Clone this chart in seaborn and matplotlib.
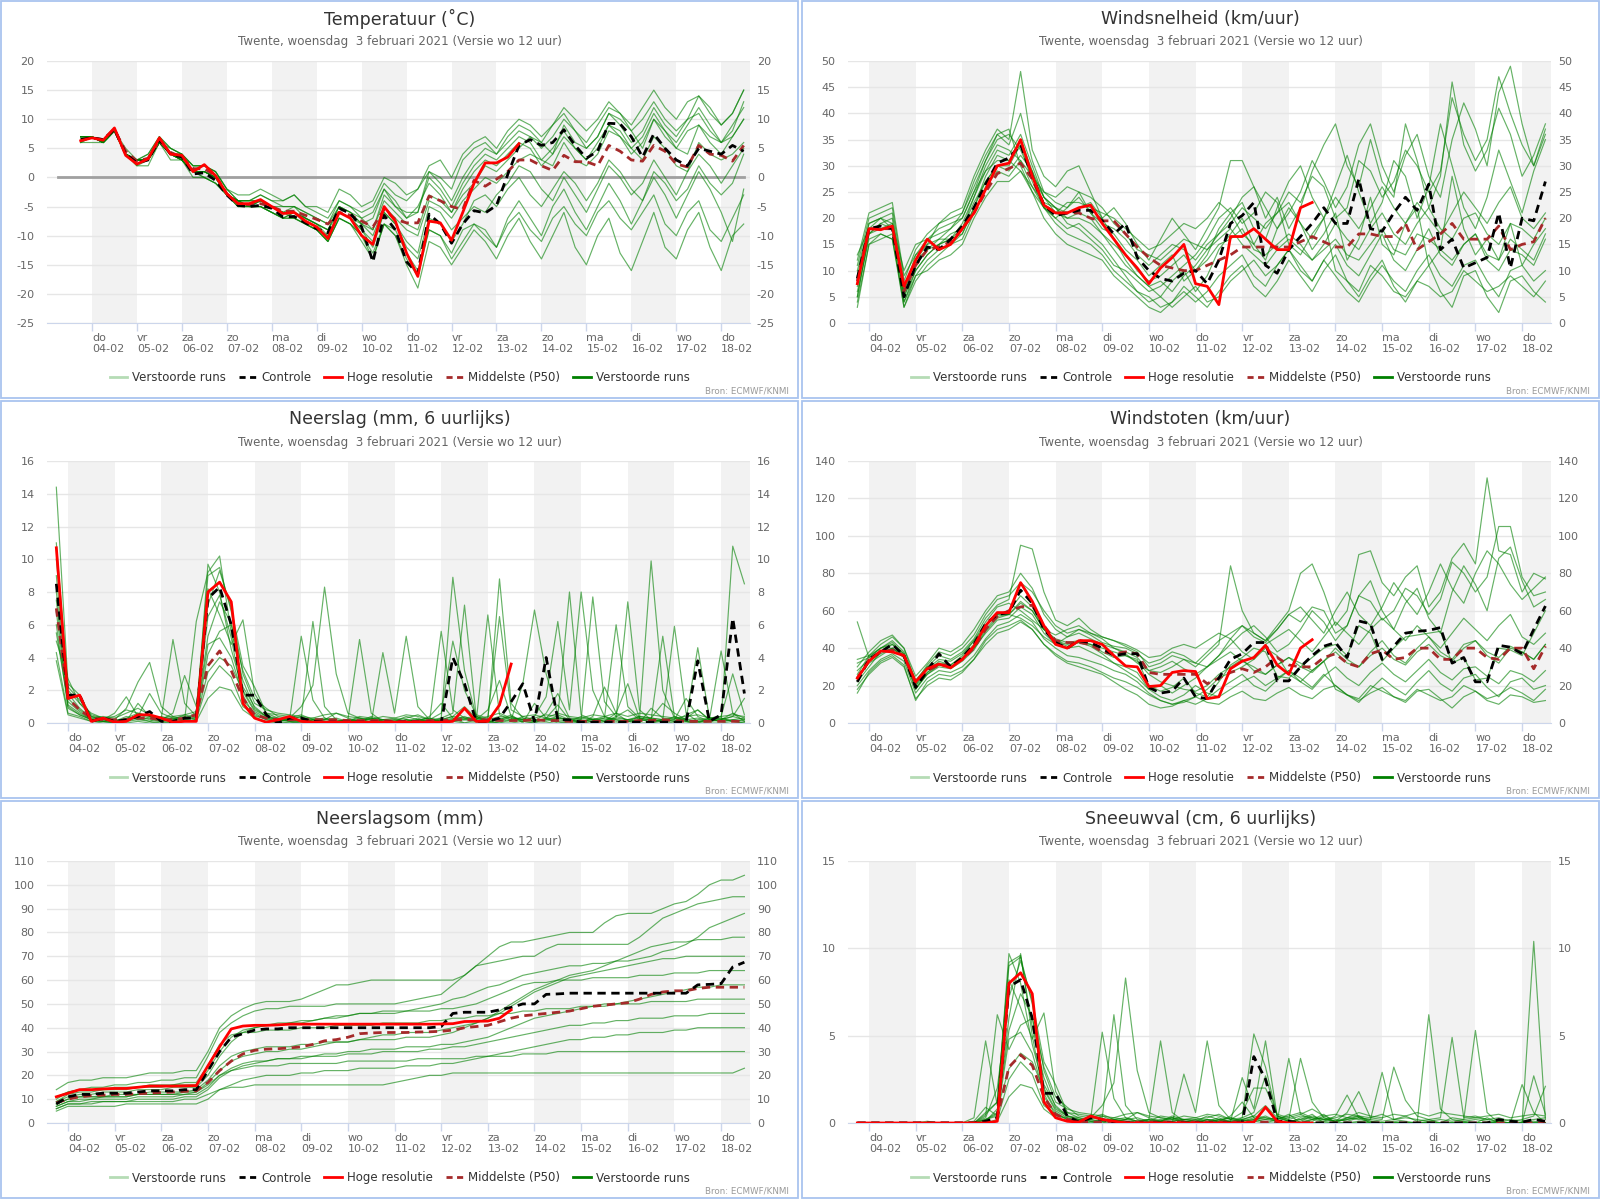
import numpy as np
import pandas as pd
import matplotlib
matplotlib.use("Agg")
import matplotlib.pyplot as plt
from matplotlib.lines import Line2D
from matplotlib.patches import Rectangle
import seaborn as sns

# --------------------------------------
# Time axis: days after 04-02 00:00, 6-hourly (03-02 18h .. 18-02 12h)
# --------------------------------------
times = np.arange(-0.25, 14.51, 0.25)
day_names = ["do", "vr", "za", "zo", "ma", "di", "wo", "do",
             "vr", "za", "zo", "ma", "di", "wo", "do"]
day_dates = ["04-02", "05-02", "06-02", "07-02", "08-02", "09-02", "10-02", "11-02",
             "12-02", "13-02", "14-02", "15-02", "16-02", "17-02", "18-02"]
subtitle = "Twente, woensdag  3 februari 2021 (Versie wo 12 uur)"
zero_span = [-0.75, 14.5]

# --------------------------------------
# Temperatuur
# --------------------------------------
temp_ctrl = "6.5 | 6.8 6.5 8.3 4.0 | 2.5 3.0 6.5 4.0 | 3.5 0.6 0.8 -0.5 | -3.0 -4.8 -5.0 -4.8 | -5.3 -6.8 -6.7 -7.8 | -8.8 -9.5 -5.3 -6.2 | -8.5 -14.5 -6.5 -9.0 | -14.5 -16.5 -6.3 -8.0 | -11.3 -8.0 -5.7 -6.1 | -4.8 0.5 5.5 6.5 | 5.5 6.0 8.2 5.5 | 3.3 4.5 9.3 9.2 | 7.0 3.5 7.5 5.0 | 3.0 2.0 5.0 4.5 | 4.0 5.5 4.5"
temp_hres = "6.3 | 6.8 6.4 8.5 3.8 | 2.3 3.2 6.8 4.0 | 3.8 1.0 2.2 0.3 | -2.8 -4.5 -4.5 -3.8 | -5.0 -6.2 -6.0 -7.5 | -8.5 -10.5 -6.0 -7.0 | -10.0 -11.5 -5.0 -7.5 | -13.0 -17.0 -7.5 -7.8 | -10.8 -6.0 -1.0 2.5 | 2.5 3.5 5.8"
temp_p50 = "6.5 | 6.8 6.5 8.2 4.5 | 2.8 3.3 6.3 4.3 | 3.5 1.5 1.5 0.3 | -2.8 -4.5 -4.7 -4.5 | -5.0 -5.8 -5.8 -6.5 | -7.2 -8.0 -6.0 -6.5 | -7.5 -8.5 -5.5 -7.2 | -7.8 -7.8 -3.2 -4.0 | -5.0 -5.5 -0.5 -1.5 | -0.3 1.0 3.0 3.0 | 2.0 1.2 3.8 2.7 | 2.7 2.0 5.5 4.5 | 3.0 2.8 5.5 4.5 | 2.3 1.8 5.5 4.0 | 3.8 2.8 5.5"
temp_runs = [
    "7 | 7 6 8 4 | 3 3 6 4 | 3 1 1 0 | -3 -4 -5 -4 | -5 -6 -6 -7 | -8 -9 -6 -7 | -8 -10 -5 -7 | -9 -10 -4 -5 | -7 -4 -2 0 | -1 1 3 4 | 3 2 6 3 | 2 4 8 7 | 5 3 7 5 | 2 1 6 4 | 3 4 6",
    "6 | 7 6 8 5 | 3 4 7 5 | 4 2 2 1 | -2 -4 -4 -3 | -4 -5 -5 -6 | -7 -8 -5 -6 | -7 -9 -4 -6 | -8 -9 -3 -4 | -6 -3 -1 2 | 1 3 5 7 | 6 4 9 6 | 5 7 11 10 | 8 5 10 8 | 5 4 9 7 | 6 7 10",
    "7 | 7 6 8 4 | 2 2 6 3 | 3 0 0 -1 | -3 -5 -5 -5 | -6 -7 -7 -8 | -9 -11 -7 -8 | -10 -13 -8 -10 | -14 -17 -9 -10 | -13 -9 -8 -10 | -12 -8 -6 -9 | -11 -7 -5 -8 | -10 -6 -4 -7 | -9 -6 -3 -8 | -10 -6 -4 -9 | -11 -7 -3",
    "7 | 7 6 8 4 | 3 3 7 5 | 4 2 2 1 | -2 -3 -3 -2 | -3 -4 -3 -5 | -6 -7 -4 -5 | -6 -5 -1 -3 | -4 -2 1 0 | -2 3 5 6 | 4 7 9 8 | 6 9 12 10 | 8 10 13 11 | 9 12 15 12 | 10 13 14 11 | 9 11 15",
    "6 | 7 6 8 4 | 3 3 6 4 | 3 1 0 -1 | -3 -5 -5 -5 | -6 -7 -6 -8 | -9 -10 -6 -7 | -9 -12 -6 -8 | -11 -13 -5 -6 | -9 -7 -5 -6 | -3 -1 2 1 | -2 -4 0 -3 | -6 -2 2 0 | -3 -1 3 0 | -3 1 4 2 | -1 2 5",
    "7 | 7 6 8 4 | 3 4 7 4 | 4 1 1 0 | -3 -4 -4 -4 | -5 -6 -5 -7 | -8 -9 -5 -6 | -8 -7 -2 -5 | -6 -6 0 -2 | -5 -1 2 4 | 3 5 7 6 | 3 5 8 5 | 3 6 9 7 | 4 6 10 7 | 5 8 9 6 | 4 7 10",
    "7 | 7 6 8 4 | 2 3 6 4 | 3 1 1 0 | -3 -4 -5 -4 | -5 -6 -7 -8 | -9 -11 -7 -8 | -10 -14 -8 -10 | -15 -19 -11 -12 | -15 -12 -9 -11 | -14 -10 -7 -11 | -14 -10 -6 -12 | -15 -10 -7 -13 | -16 -11 -6 -12 | -14 -9 -6 -12 | -16 -10 -8",
    "7 | 7 6 8 4 | 3 3 6 4 | 3 1 1 0 | -3 -4 -4 -4 | -5 -5 -5 -6 | -7 -8 -4 -5 | -7 -6 -2 -4 | -7 -5 -1 -3 | -6 -2 1 3 | 2 4 6 5 | 2 4 7 5 | 3 5 9 8 | 5 7 11 8 | 6 9 12 9 | 6 9 12",
    "6 | 6 6 8 4 | 3 3 6 4 | 4 1 1 0 | -3 -4 -5 -5 | -6 -7 -6 -7 | -8 -10 -6 -7 | -9 -11 -6 -8 | -12 -14 -7 -8 | -11 -8 -4 -3 | -5 -2 0 -3 | -5 -2 1 -1 | -4 -1 3 1 | -2 -4 1 -1 | -4 -2 2 -1 | -3 -1 4",
    "7 | 7 6 8 4 | 3 3 6 5 | 4 2 2 1 | -2 -4 -4 -3 | -4 -4 -3 -5 | -5 -6 -2 -3 | -5 -4 0 -1 | -3 -2 2 3 | 0 4 6 7 | 5 8 10 9 | 7 9 11 8 | 6 9 12 11 | 8 10 13 10 | 8 10 14 12 | 9 11 15",
    "7 | 7 6 8 4 | 3 3 6 4 | 3 1 0 -1 | -3 -5 -5 -5 | -6 -7 -7 -8 | -9 -11 -7 -8 | -11 -14 -8 -9 | -13 -16 -9 -10 | -14 -11 -8 -9 | -12 -7 -4 -7 | -10 -5 -2 -6 | -9 -5 -1 -4 | -8 -4 0 -3 | -7 -3 1 -2 | -6 -11 -2",
    "7 | 7 6 8 4 | 3 3 6 4 | 3 1 1 0 | -3 -4 -5 -4 | -5 -6 -6 -7 | -8 -9 -5 -6 | -8 -9 -3 -5 | -7 -6 1 -1 | -4 0 3 5 | 4 6 8 7 | 5 7 10 8 | 5 7 11 9 | 6 8 12 9 | 7 10 11 8 | 6 8 13",
]

# --------------------------------------
# Windsnelheid
# --------------------------------------
wind_ctrl = "8.5 | 18 18.5 18 5 | 11 14.5 14 16 | 18.5 22 26.5 30.5 | 31.5 34 28 22.5 | 20.5 21 21.5 21.5 | 19.5 17 19 12.5 | 10 8.5 8 9.5 | 10 7.5 12 19 | 20.5 23 11 9.5 | 14 16.5 19 22 | 19 19 27.5 18 | 17.5 21 24 21.5 | 26.5 14 16 10.5 | 11.5 12.5 21 10.5 | 20 19.5 27"
wind_hres = "7.5 | 18 17.8 18.5 7 | 12 16 14 15 | 18 21 25.5 30 | 30.5 35 28 22.5 | 21 21 22 22.5 | 19 16 13 10.5 | 7.5 10.5 12.5 15 | 7.5 7 3.5 16.5 | 16.5 18 16 14 | 14 22 23"
wind_p50 = "8 | 18 18 18 6 | 11 14 14.5 15.5 | 18 21 25 28.5 | 29.5 30.5 27.5 22.5 | 21 21 21 20 | 19.5 19.5 17 14.5 | 12.5 11 10.5 10 | 10 11 12 13 | 14.5 14.5 14.5 14.5 | 14.5 15.5 16.5 15.5 | 14.5 14.5 17 17 | 16.5 16.5 19 14 | 15.5 17 19 16 | 16 16 18.5 14 | 15 15.5 20"
wind_runs = [
    "5 | 17 19 20 4 | 10 13 15 16 | 19 24 29 33 | 32 36 30 24 | 22 21 22 23 | 20 16 12 9 | 7 5 8 10 | 6 9 14 17 | 20 15 12 18 | 22 19 14 17 | 21 12 16 24 | 15 13 19 22 | 11 14 28 18 | 13 16 12 19 | 11 15 18",
    "10 | 19 20 18 7 | 12 15 16 18 | 21 26 31 35 | 36 33 28 25 | 24 26 25 21 | 18 17 14 12 | 9 11 13 8 | 10 13 18 21 | 23 18 16 22 | 27 30 24 20 | 26 32 25 19 | 23 31 28 20 | 26 38 30 22 | 18 24 33 27 | 21 29 35",
    "3 | 15 16 17 3 | 8 11 13 15 | 17 22 27 30 | 29 32 29 22 | 20 18 19 17 | 15 12 9 6 | 5 3 4 7 | 5 3 6 9 | 11 7 5 8 | 12 9 6 10 | 13 8 5 9 | 12 7 4 8 | 11 6 3 9 | 10 5 2 8 | 9 6 4",
    "12 | 21 22 23 9 | 13 15 19 21 | 22 28 33 37 | 35 48 33 28 | 26 29 30 25 | 20 22 19 15 | 12 16 20 17 | 14 18 22 31 | 31 26 20 24 | 18 22 29 34 | 38 30 26 35 | 27 24 38 31 | 22 28 46 34 | 29 33 41 36 | 28 32 38",
    "7 | 18 18 19 5 | 11 14 15 17 | 18 23 27 30 | 30 34 27 22 | 19 17 16 15 | 13 10 8 6 | 4 5 3 5 | 7 4 5 8 | 10 12 9 11 | 14 10 8 12 | 15 11 9 13 | 17 12 10 14 | 18 13 11 15 | 17 12 10 14 | 13 11 16",
    "8 | 17 19 18 6 | 12 14 16 16 | 18 24 30 34 | 33 31 26 23 | 22 20 21 20 | 17 15 13 10 | 8 9 11 13 | 10 12 15 16 | 18 14 13 15 | 17 15 12 14 | 16 13 12 15 | 18 14 13 17 | 16 14 12 15 | 17 13 12 16 | 14 12 17",
    "6 | 16 17 16 4 | 9 12 14 15 | 16 21 26 29 | 28 31 28 24 | 22 19 18 16 | 14 11 10 8 | 6 7 9 11 | 13 16 20 22 | 19 21 25 23 | 15 13 17 20 | 10 8 6 11 | 9 6 5 8 | 7 5 6 10 | 8 6 7 9 | 7 5 8",
    "11 | 20 21 22 8 | 14 17 19 20 | 21 27 32 36 | 34 40 31 25 | 23 22 24 21 | 19 18 16 13 | 11 13 15 14 | 12 15 17 19 | 22 20 18 21 | 25 23 28 26 | 20 22 31 29 | 24 27 33 30 | 25 29 43 36 | 31 35 47 40 | 34 30 37",
    "4 | 15 17 16 3 | 9 10 12 13 | 15 20 24 27 | 27 29 25 20 | 17 15 14 13 | 12 9 7 5 | 3 2 4 6 | 4 6 9 11 | 13 9 7 11 | 14 11 8 12 | 9 6 4 8 | 11 8 6 10 | 13 9 7 11 | 12 8 5 10 | 11 8 10",
    "9 | 19 20 21 6 | 13 16 18 19 | 20 25 31 36 | 37 30 25 22 | 21 23 23 22 | 21 20 18 16 | 14 15 17 19 | 18 20 23 21 | 17 15 19 21 | 23 19 16 20 | 24 21 18 22 | 26 22 19 23 | 20 17 21 25 | 22 19 23 26 | 20 18 21",
    "13 | 18 20 19 10 | 15 16 17 18 | 20 25 29 31 | 31 29 26 22 | 20 22 25 24 | 22 19 17 14 | 13 12 14 16 | 15 14 16 18 | 15 13 11 14 | 16 14 12 15 | 19 16 14 18 | 21 17 15 19 | 22 18 16 20 | 21 17 15 19 | 18 16 20",
    "5 | 17 18 18 5 | 10 13 15 16 | 17 22 28 32 | 31 35 29 24 | 21 20 20 19 | 17 14 11 9 | 7 8 6 9 | 11 14 17 20 | 24 26 22 18 | 21 25 31 27 | 22 26 34 38 | 30 25 32 36 | 28 24 35 42 | 37 30 44 49 | 38 30 36",
]

# --------------------------------------
# Neerslag (mm, 6 uurlijks)
# --------------------------------------
rain_ctrl = "8.5 | 1.7 1.7 0.1 0.3 | 0.1 0.2 0.4 0.7 | 0.1 0.1 0.3 0.3 | 7.6 8.3 6.0 1.7 | 1.7 0.5 0.0 0.3 | 0.3 0.1 0.05 0.05 | 0.05 0.05 0.05 0.05 | 0.05 0.05 0.05 0.05 | 0.0 4.0 2.4 0.1 | 0.1 0.3 1.3 2.4 | 0.1 4.0 0.2 0.2 | 0.05 0.05 0.05 0.05 | 0.05 0.05 0.05 0.05 | 0.05 0.05 3.8 0.1 | 0.5 6.4 1.8"
rain_hres = "10.7 | 1.5 1.7 0.1 0.3 | 0.05 0.1 0.5 0.5 | 0.3 0.05 0.1 0.1 | 8.0 8.6 7.4 1.2 | 0.3 0.05 0.2 0.4 | 0.1 0.05 0.05 0.05 | 0.05 0.05 0.05 0.05 | 0.05 0.05 0.05 0.05 | 0.05 0.1 0.9 0.1 | 0.1 1.1 3.6"
rain_p50 = "7.0 | 1.5 0.8 0.3 0.2 | 0.2 0.2 0.3 0.3 | 0.2 0.2 0.3 0.5 | 3.5 4.4 3.2 1.5 | 0.5 0.3 0.2 0.2 | 0.2 0.2 0.2 0.2 | 0.15 0.15 0.15 0.15 | 0.1 0.1 0.1 0.15 | 0.15 0.2 0.2 0.2 | 0.2 0.15 0.15 0.15 | 0.2 0.15 0.15 0.1 | 0.1 0.1 0.1 0.1 | 0.1 0.15 0.15 0.2 | 0.15 0.1 0.1 0.1 | 0.1 0.1 0.1"
rain_runs = [
    "9.0 | 1.5 0.8 0.3 0.2 | 0.1 0.3 0.6 0.4 | 0.2 0.1 0.3 0.6 | 6.5 7.8 5.2 1.4 | 0.6 0.2 0.1 0.3 | 0.5 0.2 0.1 0.0 | 0.1 0.3 0.0 0.0 | 0.2 0.0 0.1 0.4 | 1.2 0.3 0.0 0.2 | 0.8 2.6 0.4 0.1 | 0.0 0.3 1.1 0.2 | 0.0 0.4 2.2 0.6 | 0.1 0.0 0.9 0.3 | 0.2 1.5 0.4 0.1 | 0.2 0.6 0.1",
    "14.4 | 2.4 1.7 0.4 0.2 | 0.6 1.6 0.4 0.2 | 0.1 0.3 0.1 0.2 | 9.7 8.0 4.5 2.0 | 0.8 0.4 0.2 0.1 | 0.0 0.2 0.1 0.0 | 0.0 0.1 0.3 0.1 | 0.0 0.2 0.1 0.0 | 0.3 8.9 3.2 0.4 | 0.1 0.2 0.5 0.0 | 1.2 0.3 0.0 0.1 | 0.4 0.2 0.1 0.6 | 2.4 0.3 0.0 0.2 | 0.1 0.3 0.8 0.2 | 0.1 10.8 8.5",
    "6.0 | 0.9 0.5 0.2 0.1 | 0.2 0.1 0.4 1.8 | 0.6 0.3 0.4 0.2 | 4.2 5.6 6.0 3.2 | 1.5 0.9 0.4 0.3 | 1.0 2.3 8.3 3.0 | 0.6 0.3 0.2 0.1 | 0.0 0.1 0.3 0.0 | 0.2 0.4 1.0 0.3 | 0.1 0.0 0.2 2.4 | 6.9 3.0 0.5 0.2 | 0.0 0.3 0.1 0.4 | 0.8 0.2 9.9 2.0 | 0.3 0.1 0.0 0.2 | 0.3 0.1 0.2",
    "5.0 | 2.7 1.2 0.6 0.3 | 0.2 0.9 2.5 3.7 | 1.0 0.4 0.2 6.2 | 9.2 10.2 5.5 2.6 | 0.9 0.4 0.3 0.2 | 5.3 1.4 0.3 0.1 | 0.2 5.1 0.6 0.1 | 0.0 0.2 0.1 0.3 | 0.1 0.2 0.4 0.1 | 0.0 0.3 0.2 0.1 | 0.4 1.6 6.2 0.8 | 8.0 2.0 0.4 0.2 | 0.1 0.4 0.3 1.2 | 0.6 0.2 4.6 0.3 | 0.2 0.4 1.5",
    "7.5 | 1.1 0.6 0.2 0.1 | 0.0 0.2 0.3 0.1 | 0.4 0.2 0.5 0.3 | 3.1 4.0 3.5 1.9 | 0.7 0.3 0.1 0.2 | 0.4 0.1 0.2 0.6 | 0.3 0.1 0.0 4.3 | 0.6 5.3 1.0 0.2 | 0.1 0.3 0.2 0.1 | 0.0 0.1 0.4 0.2 | 0.1 0.6 1.8 0.3 | 0.2 7.7 1.3 0.4 | 0.2 0.1 0.3 0.2 | 5.9 0.6 0.1 0.2 | 0.3 0.1 0.0",
    "11.0 | 2.0 1.2 0.4 0.3 | 0.2 0.1 1.2 0.4 | 0.2 0.6 2.9 1.0 | 7.2 9.3 7.0 3.5 | 2.2 0.6 0.3 0.1 | 0.1 0.2 0.0 0.1 | 0.2 0.1 0.3 0.0 | 0.1 0.4 0.2 0.1 | 5.6 0.8 0.3 0.4 | 0.2 8.8 1.2 0.3 | 0.1 0.2 0.4 0.1 | 0.2 0.1 0.3 6.0 | 1.0 0.3 0.2 0.1 | 0.4 0.1 0.2 0.3 | 0.4 3.0 0.5",
    "4.3 | 0.6 0.4 0.1 0.0 | 0.0 0.1 0.2 0.1 | 0.0 0.1 0.1 0.2 | 2.5 3.5 2.8 1.0 | 0.5 0.2 0.1 0.0 | 0.1 0.2 0.3 0.1 | 0.2 0.1 0.4 0.2 | 0.1 0.0 0.2 0.3 | 0.1 0.2 0.3 0.2 | 0.4 0.6 0.3 0.2 | 0.1 0.3 0.2 0.1 | 0.0 0.1 0.2 0.3 | 7.4 0.8 0.2 0.1 | 0.2 0.1 0.0 0.3 | 0.1 0.2 0.1",
    "8.0 | 1.8 0.9 0.3 0.4 | 0.3 0.6 0.9 0.5 | 0.3 5.1 1.2 0.4 | 8.2 6.6 4.8 6.3 | 1.8 0.6 0.5 0.4 | 0.3 6.2 1.0 0.2 | 0.1 0.4 0.3 0.2 | 0.2 0.3 0.5 0.2 | 0.3 0.6 7.2 0.4 | 0.2 0.4 0.3 0.2 | 0.3 0.5 0.4 8.0 | 0.5 0.2 0.1 0.3 | 0.2 0.4 0.3 0.2 | 0.1 0.5 0.8 0.2 | 4.4 0.6 0.3",
    "5.5 | 1.3 0.7 0.2 0.1 | 0.1 0.4 0.2 0.3 | 0.1 0.2 0.3 0.4 | 5.3 7.4 6.1 2.2 | 1.0 0.4 0.2 0.1 | 0.2 0.1 0.2 0.3 | 0.1 0.2 0.1 0.2 | 0.3 0.1 0.2 0.1 | 0.2 0.4 0.3 0.1 | 6.6 0.5 0.2 0.3 | 0.1 0.2 0.3 0.2 | 0.3 0.2 0.4 0.1 | 0.2 0.3 0.2 5.3 | 0.4 0.2 0.3 0.1 | 0.2 0.4 0.2",
    "6.8 | 1.0 0.5 0.2 0.2 | 0.1 0.2 0.5 0.3 | 0.2 0.3 0.2 0.3 | 4.8 5.2 4.0 1.7 | 0.4 0.3 0.2 0.2 | 0.1 0.3 0.2 0.1 | 0.1 0.0 0.1 0.2 | 0.1 0.2 0.1 0.1 | 0.2 0.1 0.2 0.3 | 0.1 0.2 0.1 0.4 | 0.2 0.1 0.3 0.2 | 0.1 0.2 0.3 0.2 | 0.1 0.2 0.1 0.2 | 0.3 0.2 0.1 0.2 | 0.1 0.2 0.3",
    "10.0 | 2.2 1.4 0.5 0.3 | 0.4 0.8 0.6 0.4 | 0.3 0.4 0.5 0.7 | 9.0 9.5 6.8 3.0 | 1.2 0.8 0.6 0.5 | 0.4 0.3 0.5 0.6 | 0.4 0.3 0.2 0.4 | 0.3 0.5 0.4 0.2 | 0.6 5.0 2.0 0.5 | 0.3 6.5 0.8 0.4 | 0.5 0.3 0.6 0.4 | 0.3 0.5 0.4 0.6 | 0.4 0.6 0.5 0.4 | 0.3 0.4 0.5 0.3 | 0.4 0.5 0.4",
    "3.8 | 0.5 0.3 0.1 0.1 | 0.0 0.0 0.1 0.0 | 0.1 0.0 0.2 0.1 | 1.5 2.2 2.0 0.8 | 0.3 0.1 0.0 0.0 | 0.0 0.1 0.0 0.0 | 0.0 0.1 0.0 0.0 | 0.1 0.0 0.0 0.1 | 0.0 0.1 0.0 0.0 | 0.1 0.0 0.0 0.1 | 0.0 0.0 0.1 0.0 | 0.0 0.1 0.0 0.0 | 0.1 0.0 0.0 0.1 | 0.0 0.0 0.1 0.0 | 0.0 0.1 0.0",
]

# --------------------------------------
# Windstoten
# --------------------------------------
gust_ctrl = "22 | 34 38 42 36 | 19 28 37 30 | 35 42 53 58 | 59 71 64 50 | 43 40 44 43 | 40 36 37 37 | 19 16 17 24 | 14 13 24 34 | 37 43 43 22.5 | 22.5 30 36 41 | 43 35 54.5 53 | 34 41 48 49 | 49.5 51 32 35 | 22 22 41.5 40.5 | 37 50 62.5"
gust_hres = "24 | 33 38.5 38 36 | 22 29 31.5 29.5 | 34 41 52 59 | 59 75 65 52 | 42 40 44 44 | 42 36 30.5 30 | 19.5 20 27 28 | 27.5 13 14 29 | 33 35 41.5 31 | 26 40 44.5"
gust_p50 = "24 | 34 38 39 36 | 21 28 31 31 | 34 40 50 57 | 60 62 63 52 | 44 43 43 42 | 38 37 38 37 | 27 26 26 26 | 26 21 24 27 | 29 27 30 35 | 31 30 30 35 | 37 32 30 37 | 39 34 35 40 | 40 34 34 40 | 40 35 34 40 | 40 29 41"
gust_runs = [
    "22 | 30 38 42 36 | 18 27 33 31 | 35 42 52 58 | 60 68 62 50 | 44 41 43 42 | 38 35 36 34 | 20 17 19 24 | 16 14 22 31 | 35 40 38 25 | 24 30 35 40 | 42 36 52 48 | 33 40 46 47 | 48 49 32 35 | 23 24 40 39 | 36 48 60",
    "30 | 38 44 47 40 | 25 32 40 38 | 42 50 60 68 | 70 80 72 58 | 50 46 48 45 | 42 40 38 35 | 28 30 33 29 | 26 30 36 45 | 52 48 44 50 | 58 62 55 48 | 60 70 58 52 | 62 75 66 58 | 70 85 72 64 | 80 92 85 74 | 66 72 78",
    "18 | 26 32 35 30 | 13 20 24 23 | 27 34 44 50 | 52 55 50 42 | 37 33 32 30 | 27 24 22 19 | 15 12 10 12 | 14 11 10 14 | 17 13 12 16 | 19 15 13 18 | 20 15 12 16 | 19 14 11 17 | 18 13 8 14 | 17 12 10 15 | 14 11 12",
    "54 | 35 40 44 38 | 20 30 36 34 | 38 45 56 63 | 66 95 93 70 | 55 52 56 50 | 46 44 41 38 | 30 32 36 34 | 30 36 42 84 | 60 48 44 52 | 60 80 85 70 | 52 60 90 92 | 75 68 78 84 | 62 70 88 96 | 85 131 92 90 | 70 80 77",
    "28 | 34 38 40 35 | 20 27 31 30 | 34 40 48 55 | 56 62 58 48 | 42 40 41 38 | 35 32 30 27 | 18 14 12 15 | 20 16 14 18 | 22 25 20 24 | 28 22 18 25 | 30 24 20 27 | 32 26 22 28 | 34 27 23 29 | 30 25 21 28 | 26 22 28",
    "24 | 32 36 40 36 | 19 26 30 29 | 33 39 49 56 | 58 64 60 50 | 45 43 44 42 | 40 38 36 33 | 26 22 20 18 | 17 20 26 30 | 34 28 26 31 | 35 30 27 33 | 38 32 30 36 | 40 34 31 38 | 42 36 33 40 | 44 38 35 41 | 38 34 42",
    "20 | 28 34 37 33 | 16 24 28 27 | 30 36 45 52 | 54 58 54 45 | 40 36 35 33 | 31 28 26 22 | 16 12 10 11 | 14 18 24 27 | 30 34 40 36 | 26 22 28 33 | 18 15 13 20 | 17 14 12 18 | 15 12 14 20 | 17 13 15 19 | 16 12 18",
    "34 | 36 42 46 40 | 22 31 38 36 | 40 47 58 66 | 68 75 70 60 | 52 48 50 47 | 43 41 40 37 | 32 34 38 36 | 32 38 44 48 | 52 46 43 50 | 58 54 62 60 | 48 52 68 65 | 55 60 72 68 | 58 66 86 80 | 70 78 105 105 | 78 68 70",
    "16 | 27 33 36 31 | 12 22 26 25 | 28 34 42 48 | 50 54 50 42 | 36 32 30 28 | 26 22 18 15 | 10 8 9 12 | 10 13 18 22 | 26 20 17 23 | 28 24 19 26 | 20 15 11 18 | 24 19 15 22 | 28 21 17 24 | 26 19 14 22 | 24 18 20",
    "26 | 36 40 43 37 | 21 29 34 33 | 37 44 54 62 | 64 60 55 50 | 47 50 52 48 | 46 44 42 39 | 35 36 40 42 | 40 44 48 45 | 38 34 42 46 | 50 44 38 46 | 54 48 42 50 | 56 50 44 52 | 46 40 48 56 | 50 44 52 58 | 46 42 48",
    "32 | 35 40 42 37 | 23 30 32 31 | 36 44 52 58 | 58 56 52 46 | 42 46 50 48 | 45 40 37 32 | 28 27 30 34 | 32 30 34 38 | 33 30 26 31 | 35 32 28 33 | 40 34 30 38 | 44 36 32 40 | 46 38 34 42 | 44 36 32 40 | 38 34 42",
    "23 | 33 37 40 35 | 18 26 31 30 | 34 40 50 57 | 58 65 60 50 | 44 42 43 41 | 37 32 28 24 | 18 20 16 20 | 24 30 36 42 | 48 52 46 38 | 42 50 60 54 | 44 52 68 76 | 60 50 64 72 | 56 48 70 84 | 74 60 88 94 | 76 62 66",
]

# --------------------------------------
# Neerslagsom (mm)
# --------------------------------------
rsum_ctrl = "8 | 11 12 12 12.5 | 12.5 12.5 13 13.5 | 13.5 13.5 14 14 | 22 30 36 37.5 | 39 39.5 39.5 40 | 40 40 40 40 | 40 40 40 40 | 40 40 40 40 | 40.5 46 46.5 46.5 | 46.5 47.5 48.5 50 | 50 54 54.2 54.5 | 54.5 54.5 54.5 54.5 | 54.5 54.5 54.5 54.5 | 54.5 54.5 58 58.2 | 58.5 65.5 67.5"
rsum_hres = "11 | 12.5 14 14 14.3 | 14.5 14.5 15 15.5 | 15.5 15.5 15.6 15.7 | 24 32 39.5 40.7 | 41 41 41.2 41.5 | 41.5 41.5 41.5 41.5 | 41.5 41.5 41.5 41.5 | 41.5 41.5 41.5 41.5 | 41.6 41.7 42.6 42.7 | 42.8 44 47.5"
rsum_p50 = "8.5 | 10 11 11.5 11.7 | 12 12 12.3 12.5 | 12.8 13 13.3 13.5 | 17 22 26 29 | 30.5 31 31.2 31.5 | 32 33 34.5 35 | 36 37.5 37.8 38 | 38 38 38.2 38.3 | 38.5 39 40 40.5 | 41 42.5 44 45 | 45.5 46 46.5 47 | 48 49 49.5 50 | 50.5 52 54 55 | 55.5 55.5 56.5 57 | 57 57 57"
rsum_runs = [
    "14 | 17 18 18 19 | 19 19 20 21 | 21 21 22 22 | 30 40 45 48 | 50 51 51 51 | 52 54 56 58 | 58 59 60 60 | 60 60 60 60 | 60 60 62 66 | 70 74 76 76 | 77 78 79 80 | 80 80 84 87 | 88 88 88 90 | 92 93 96 100 | 102 102 104",
    "10 | 13 14 15 15 | 16 16 17 17 | 18 18 19 19 | 28 38 42 45 | 47 48 48 49 | 49 49 49 50 | 50 50 50 50 | 50 51 52 53 | 54 58 62 66 | 67 68 69 70 | 70 73 75 75 | 75 75 75 75 | 75 78 82 86 | 88 90 92 93 | 94 95 95",
    "9 | 11 12 12 13 | 13 13 14 14 | 14 15 15 15 | 20 28 34 38 | 40 41 41 42 | 42 43 44 45 | 45 46 46 47 | 47 47 48 49 | 50 52 53 55 | 57 58 60 62 | 63 64 65 66 | 66 67 67 68 | 68 69 70 72 | 73 75 78 82 | 84 86 88",
    "8 | 10 11 11 11 | 12 12 12 13 | 13 13 13 14 | 18 24 28 30 | 31 32 32 32 | 33 33 34 34 | 34 35 35 35 | 35 36 36 36 | 37 38 40 42 | 44 47 50 53 | 56 58 60 62 | 63 64 66 68 | 70 72 74 75 | 76 76 77 77 | 77 78 78",
    "7 | 9 10 10 11 | 11 11 12 12 | 12 12 13 13 | 17 22 26 28 | 29 30 30 31 | 31 32 33 34 | 34 35 36 37 | 37 38 38 38 | 39 40 41 42 | 44 46 49 52 | 55 57 59 61 | 62 63 64 65 | 66 67 68 69 | 69 70 70 70 | 70 70 70",
    "9 | 12 13 13 14 | 14 14 15 15 | 15 16 16 16 | 22 30 36 39 | 40 41 42 42 | 43 43 44 44 | 45 46 46 46 | 46 47 47 47 | 48 48 49 50 | 52 54 56 58 | 59 59 60 60 | 60 61 61 61 | 61 62 62 62 | 63 63 63 64 | 64 64 64",
    "6 | 8 8 9 9 | 9 9 10 10 | 10 10 11 11 | 14 19 22 24 | 25 26 27 27 | 28 28 29 29 | 30 30 31 31 | 31 32 32 32 | 33 33 34 35 | 36 38 40 42 | 44 45 46 47 | 48 49 50 50 | 51 52 53 54 | 55 56 57 57 | 58 58 58",
    "11 | 13 14 14 14 | 15 15 15 16 | 16 16 17 17 | 24 33 37 38 | 38 39 39 39 | 40 40 40 41 | 41 41 41 42 | 42 42 42 43 | 43 44 44 45 | 45 46 46 47 | 47 48 48 48 | 49 49 49 50 | 50 50 51 51 | 51 51 52 52 | 52 52 52",
    "7 | 9 9 10 10 | 10 10 11 11 | 11 11 12 12 | 15 20 23 25 | 26 26 27 27 | 27 28 28 28 | 29 29 29 30 | 30 30 30 31 | 31 32 32 33 | 34 35 36 37 | 38 39 40 41 | 41 42 42 43 | 43 44 44 44 | 45 45 45 46 | 46 46 46",
    "5 | 7 7 7 7 | 7 8 8 8 | 8 8 8 8 | 10 14 16 18 | 19 20 20 20 | 21 21 22 22 | 22 23 23 23 | 23 24 24 24 | 25 25 26 27 | 28 29 30 31 | 32 33 34 35 | 35 36 36 37 | 37 38 38 38 | 39 39 40 40 | 40 40 40",
    "8 | 10 11 11 11 | 11 11 12 12 | 12 12 12 13 | 16 20 22 23 | 24 24 24 25 | 25 25 25 25 | 26 26 26 26 | 26 26 27 27 | 27 27 27 28 | 28 28 28 29 | 29 29 30 30 | 30 30 30 30 | 30 30 30 30 | 30 30 30 30 | 30 30 30",
    "6 | 8 8 8 9 | 9 9 9 9 | 9 9 10 10 | 12 14 15 15 | 16 16 16 16 | 16 16 16 16 | 16 16 16 16 | 17 18 19 20 | 20 21 21 21 | 21 21 21 21 | 21 21 21 21 | 21 21 21 21 | 21 21 21 21 | 21 21 21 21 | 21 21 23",
]

# --------------------------------------
# Sneeuwval (cm, 6 uurlijks)
# --------------------------------------
snow_ctrl = "0 | 0 0 0 0 | 0 0 0 0 | 0 0 0.1 0.3 | 7.8 8.2 6.0 1.7 | 1.7 0.4 0.05 0.3 | 0.2 0.05 0 0 | 0 0 0 0 | 0 0 0 0 | 0 3.8 2.5 0.1 | 0.1 0 0 0 | 0 0 0 0 | 0 0 0 0 | 0 0 0 0 | 0 0 0.2 0.1 | 0.05 0.2 0.1"
snow_hres = "0 | 0 0 0 0 | 0 0 0 0 | 0 0 0 0.1 | 8.0 8.6 7.4 1.2 | 0.3 0.1 0.05 0.4 | 0.2 0.1 0 0 | 0 0 0 0 | 0 0 0 0 | 0 0.05 0.9 0.1 | 0 0 0"
snow_p50 = "0 | 0 0 0 0 | 0 0 0 0 | 0 0 0 0.3 | 3.2 3.9 3.3 1.5 | 0.5 0.2 0.1 0.05 | 0.05 0.05 0.05 0.05 | 0.05 0.05 0.05 0.05 | 0.05 0.05 0.05 0.05 | 0.05 0.05 0.05 0.05 | 0 0 0 0 | 0 0 0 0 | 0 0 0 0 | 0 0 0 0 | 0 0 0 0 | 0 0 0"
snow_runs = [
    "0 | 0 0 0 0 | 0 0 0 0 | 0 0 0.2 0.5 | 6.0 9.7 5.0 1.5 | 0.6 0.2 0.1 0.3 | 0.5 0.2 0.1 0 | 0 0.1 0 0 | 0.2 0 0.1 0.4 | 1.2 0.3 0 0.2 | 0.5 0 0 0 | 0 0.3 0.4 0 | 0 0 0 0 | 0 0 0 0 | 0 0.3 0 0 | 0 0 0",
    "0 | 0 0 0 0 | 0 0 0 0 | 0 0.3 4.7 1.0 | 9.7 8.0 4.5 2.0 | 0.8 0.4 0.2 0.1 | 0 0.2 0.1 0 | 0 0.1 0.3 0.1 | 0 0.2 0.1 0 | 0.3 5.1 3.2 0.4 | 0.1 0.2 0.5 0 | 0 0 0 0 | 0 0 0 0 | 0 0 0 0 | 0 0 0 0 | 0 10.4 0.2",
    "0 | 0 0 0 0 | 0 0 0 0 | 0 0 0.4 6.2 | 4.2 5.6 6.0 3.2 | 1.5 0.9 0.4 0.3 | 1.0 2.3 8.3 3.0 | 0.6 0.3 0.2 0.1 | 0 0.1 0.3 0 | 0.2 0.4 1.0 0.3 | 0.1 0 0.2 0.5 | 0 0 0 0 | 0 0 0 0 | 0 0 0 0 | 0 0 0 0 | 0 0 0",
    "0 | 0 0 0 0 | 0 0 0 0 | 0 0 0.5 1.2 | 9.2 9.6 5.5 2.6 | 0.9 0.4 0.3 0.2 | 5.2 1.4 0.3 0.1 | 0.2 4.7 0.6 0.1 | 0 0.2 0.1 0.3 | 0.1 0.2 0.4 0.1 | 0 0.3 0.2 0.1 | 0.4 1.6 0.3 0 | 0 0 0 0 | 0 0 0 0 | 0 0 0 0 | 0 0 0",
    "0 | 0 0 0 0 | 0 0 0 0 | 0 0 0.1 0.8 | 3.1 4.0 3.5 1.9 | 0.7 0.3 0.1 0.2 | 0.4 0.1 0.2 0.6 | 0.3 0.1 0 2.8 | 0.6 4.7 1.0 0.2 | 0.1 0.3 0.2 0.1 | 0 0.1 0.4 0.2 | 0.1 0.6 1.8 0.3 | 0.2 3.2 1.3 0.4 | 0.2 0 0.3 0.2 | 5.3 0.6 0 0 | 0 0 0",
    "0 | 0 0 0 0 | 0 0 0 0 | 0 0 0.3 2.0 | 7.2 9.3 7.0 3.5 | 2.2 0.6 0.3 0.1 | 0.1 0.2 0 0.1 | 0.2 0.1 0.3 0 | 0.1 0.4 0.2 0.1 | 2.6 0.8 4.7 0.4 | 0.2 3.7 1.2 0.3 | 0.1 0.2 0.4 0.1 | 0 0 0 0 | 0 0 0 0 | 0 0 0 0 | 0 2.7 0.5",
    "0 | 0 0 0 0 | 0 0 0 0 | 0 0 0 0.2 | 2.5 3.5 2.8 1.0 | 0.5 0.2 0.1 0 | 0.1 0.2 0.3 0.1 | 0.2 0.1 0.4 0.2 | 0.1 0 0.2 0.3 | 0.1 0.2 0.3 0.2 | 0.4 0.6 0.3 0.2 | 0.1 0.3 0.2 0.1 | 0 0 0 0 | 6.2 0.8 0.2 0.1 | 0.2 0.1 0 0 | 0 0 0",
    "0 | 0 0 0 0 | 0 0 0 0 | 0 0.1 0.9 0.4 | 8.2 6.6 4.8 6.3 | 1.8 0.6 0.5 0.4 | 0.3 6.2 1.0 0.2 | 0.1 0.4 0.3 0.2 | 0.2 0.3 0.5 0.2 | 0.3 0.6 2.7 0.4 | 0.2 0.4 0.3 0.2 | 0.3 0.5 0.4 0.3 | 0.5 0.2 0.1 0 | 0 0 0 0 | 0 0 0.1 0 | 2.2 0.6 0",
    "0 | 0 0 0 0 | 0 0 0 0 | 0 0 0.2 0.6 | 5.3 7.4 6.1 2.2 | 1.0 0.4 0.2 0.1 | 0.2 0.1 0.2 0.3 | 0.1 0.2 0.1 0.2 | 0.3 0.1 0.2 0.1 | 0.2 0.4 0.3 0.1 | 3.7 0.5 0.2 0.3 | 0.1 0.2 0.3 0.2 | 2.9 0.2 0.4 0.1 | 0.2 0.3 4.9 0.3 | 0.4 0.2 0.3 0.1 | 0.2 0.4 2.1",
    "0 | 0 0 0 0 | 0 0.1 0 0 | 0 0 0.2 0.4 | 4.8 5.2 4.0 1.7 | 0.4 0.3 0.2 0.2 | 0.1 0.3 0.2 0.1 | 0.1 0 0.1 0.2 | 0.1 0.2 0.1 0.1 | 0.2 0.1 0.2 0.3 | 0.1 0.2 0.1 0.4 | 0.2 0.1 0.3 0.2 | 0.1 0.2 0.3 0.2 | 0.1 0.2 0.1 0.2 | 0.3 0.2 0.1 0.2 | 0.1 0.2 0.3",
    "0 | 0 0 0 0 | 0 0 0 0 | 0 0 0.6 1.2 | 9.0 9.5 6.8 3.0 | 1.2 0.8 0.6 0.5 | 0.4 0.3 0.5 0.6 | 0.4 0.3 0.2 0.4 | 0.3 0.5 0.4 0.2 | 0.6 2.0 2.0 0.5 | 0.3 0.5 0.8 0.4 | 0.5 0.3 0.6 0.4 | 0.3 0.5 0.4 0.6 | 0.4 0.6 0.5 0.4 | 0.3 0.4 0.5 0.3 | 0.4 0.5 0.4",
    "0 | 0 0 0 0 | 0 0 0 0 | 0 0 0 0.1 | 1.5 2.2 2.0 0.8 | 0.3 0.1 0 0 | 0 0.1 0 0 | 0 0.1 0 0 | 0.1 0 0 0.1 | 0 0.1 0 0 | 0.1 0 0 0.1 | 0 0 0.1 0 | 0 0.1 0 0 | 0.1 0 0 0.1 | 0 0 0.1 0 | 0 0.1 0",
]


def parse(s):
    return np.array([float(v) for v in s.replace("|", " ").split()])


# --------------------------------------
# Styling
# --------------------------------------
W, H = 1600, 1200
RUN_COLOR = "#008000"
fig = plt.figure(figsize=(16, 12), dpi=100)
fig.patch.set_facecolor("white")

legend_handles = [
    Line2D([], [], color="#b5dcb5", lw=2),
    Line2D([], [], color="black", lw=2, ls=(0, (2.2, 1.6))),
    Line2D([], [], color="red", lw=2),
    Line2D([], [], color="#a52a2a", lw=2, ls=(0, (2.2, 1.6))),
    Line2D([], [], color=RUN_COLOR, lw=2),
]
legend_labels = ["Verstoorde runs", "Controle", "Hoge resolutie",
                 "Middelste (P50)", "Verstoorde runs"]


def draw_panel(col, row, title, runs, ctrl, hres, p50, ylim, ystep, xlim, zero=False):
    px0 = col * 801
    py0 = row * 400
    pw = 799
    # panel frame
    fig.patches.append(Rectangle(((px0 + 1) / W, 1 - (py0 + 398) / H), (pw - 2) / W, 397 / H,
                                 transform=fig.transFigure, fill=False,
                                 edgecolor="#a9c4ef", lw=1.3))
    cx = (px0 + pw / 2) / W
    fig.text(cx, 1 - (py0 + 19) / H, title, ha="center", va="center",
             fontsize=12.5, color="#333333")
    fig.text(cx, 1 - (py0 + 42) / H, subtitle, ha="center", va="center",
             fontsize=8.6, color="#666666")
    fig.text((px0 + pw - 10) / W, 1 - (py0 + 391) / H, "Bron: ECMWF/KNMI",
             ha="right", va="center", fontsize=6.3, color="#999999")

    ax = fig.add_axes([(px0 + 47) / W, 1 - (py0 + 323) / H, 703 / W, 262 / H])
    for k in range(0, 15, 2):
        ax.axvspan(k, k + 1, color="#f2f2f2", lw=0, zorder=0)
    yt = np.arange(ylim[0], ylim[1] + 0.01, ystep)
    ax.set_ylim(ylim)
    ax.set_xlim(xlim)
    ax.set_yticks(yt)
    ax.set_yticklabels([f"{v:g}" for v in yt])
    ax.grid(axis="y", color="#e6e6e6", lw=1)
    ax.grid(axis="x", visible=False)
    ax.set_axisbelow(True)

    if zero:
        ax.plot(zero_span, [0, 0], color="#a0a0a0", lw=2, zorder=1.5)

    frames = [pd.DataFrame({"t": times, "v": parse(s), "run": k}) for k, s in enumerate(runs)]
    long_df = pd.concat(frames, ignore_index=True)
    sns.lineplot(data=long_df, x="t", y="v", units="run", estimator=None,
                 color=RUN_COLOR, lw=0.85, alpha=0.6, ax=ax, legend=False, zorder=2)

    p50_v = parse(p50)
    sns.lineplot(x=times[:len(p50_v)], y=p50_v, color="#a52a2a", lw=2,
                 linestyle=(0, (3, 2)), ax=ax, estimator=None, zorder=3)
    ctrl_v = parse(ctrl)
    sns.lineplot(x=times[:len(ctrl_v)], y=ctrl_v, color="black", lw=2,
                 linestyle=(0, (3, 2)), ax=ax, estimator=None, zorder=4)
    hres_v = parse(hres)
    sns.lineplot(x=times[:len(hres_v)], y=hres_v, color="red", lw=2,
                 ax=ax, estimator=None, zorder=5)

    ax.set_xlabel("")
    ax.set_ylabel("")
    ax.set_xticks(range(15))
    ax.set_xticklabels([f"{n}\n{d}" for n, d in zip(day_names, day_dates)])
    for lbl in ax.get_xticklabels():
        lbl.set_horizontalalignment("left")
    ax.tick_params(axis="x", length=6, width=1, color="#ccd6eb", pad=1,
                   labelsize=8, labelcolor="#666666")
    ax.tick_params(axis="y", length=0, pad=9, labelsize=8, labelcolor="#666666")
    for side in ["top", "left", "right"]:
        ax.spines[side].set_visible(False)
    ax.spines["bottom"].set_color("#ccd6eb")
    ax.set_facecolor("white")

    ax2 = ax.twinx()
    ax2.set_ylim(ylim)
    ax2.set_yticks(yt)
    ax2.set_yticklabels([f"{v:g}" for v in yt])
    ax2.tick_params(axis="y", length=0, pad=5, labelsize=8, labelcolor="#666666")
    for side in ax2.spines:
        ax2.spines[side].set_visible(False)

    fig.legend(legend_handles, legend_labels, loc="center",
               bbox_to_anchor=(cx, 1 - (py0 + 378) / H), ncol=5, frameon=False,
               fontsize=8.5, handlelength=1.5, handletextpad=0.4, columnspacing=1.1,
               labelcolor="#333333")


draw_panel(0, 0, "Temperatuur (˚C)", temp_runs, temp_ctrl, temp_hres, temp_p50,
           (-25, 20), 5, (-1.0, 14.64), zero=True)
draw_panel(1, 0, "Windsnelheid (km/uur)", wind_runs, wind_ctrl, wind_hres, wind_p50,
           (0, 50), 5, (-0.45, 14.62))
draw_panel(0, 1, "Neerslag (mm, 6 uurlijks)", rain_runs, rain_ctrl, rain_hres, rain_p50,
           (0, 16), 2, (-0.45, 14.62))
draw_panel(1, 1, "Windstoten (km/uur)", gust_runs, gust_ctrl, gust_hres, gust_p50,
           (0, 140), 20, (-0.45, 14.62))
draw_panel(0, 2, "Neerslagsom (mm)", rsum_runs, rsum_ctrl, rsum_hres, rsum_p50,
           (0, 110), 10, (-0.45, 14.62))
draw_panel(1, 2, "Sneeuwval (cm, 6 uurlijks)", snow_runs, snow_ctrl, snow_hres, snow_p50,
           (0, 15), 5, (-0.45, 14.62))

fig.savefig("out.png", dpi=100)
